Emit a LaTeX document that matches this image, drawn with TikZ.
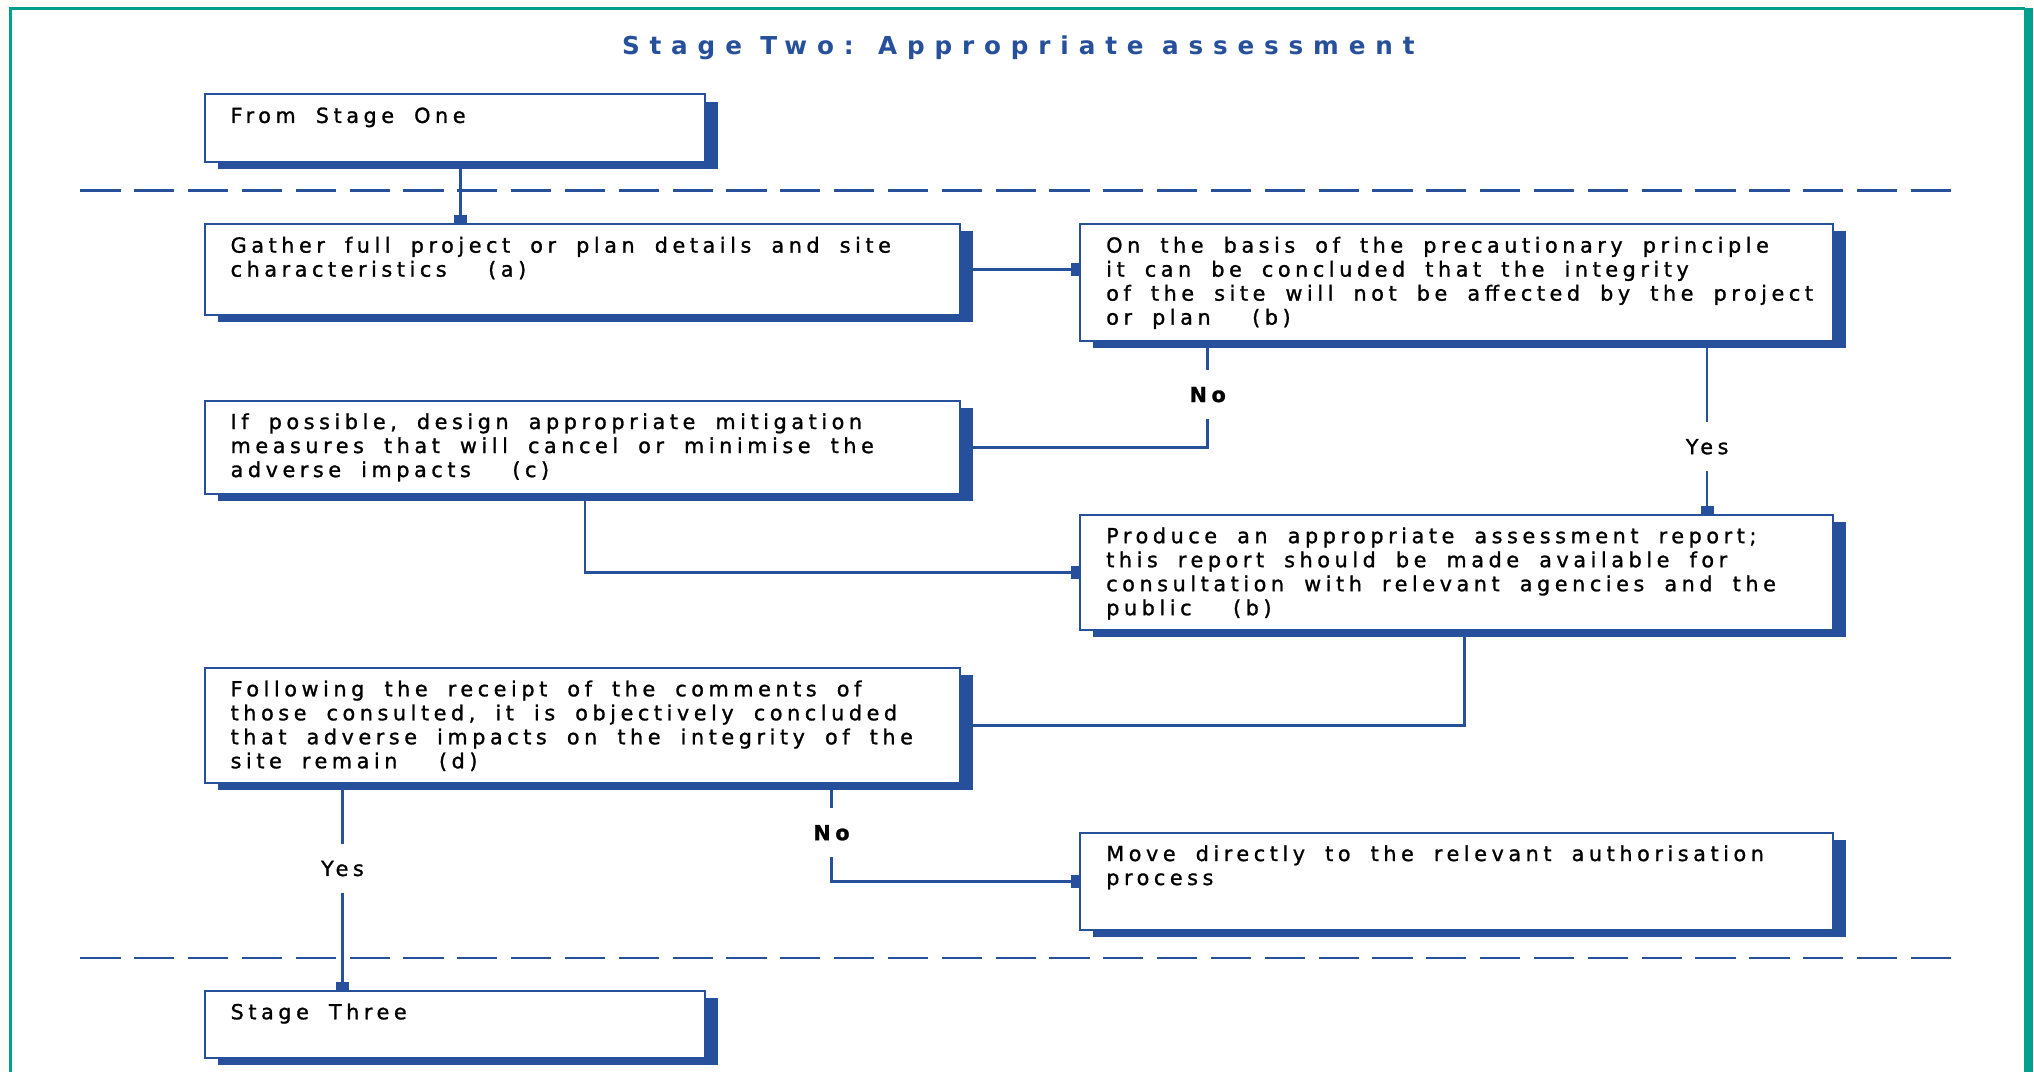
\documentclass[tikz,border=0pt]{standalone}
\usepackage{fontspec}
\usepackage{tikz}
\usetikzlibrary{arrows.meta,shadows}
\setmainfont{DejaVu Sans}
\newfontfamily\boxfont[LetterSpace=22,WordSpace=1.8,FakeBold=1.2]{DejaVu Sans}
\newfontfamily\headfont[LetterSpace=40]{DejaVu Sans}
\definecolor{bblue}{RGB}{38,80,155}
\definecolor{frameteal}{RGB}{0,160,140}
\definecolor{cream}{RGB}{255,253,248}
\newcommand{\boxtxt}[3]{\parbox[t][\dimexpr#2-9pt\relax][t]{\dimexpr#1-20pt\relax}{%
  \begin{tabular}[t]{@{}l@{}}#3\end{tabular}}}

\begin{document}
\begin{tikzpicture}[x=0.5pt,y=-0.5pt,>={Rectangle[length=3pt,width=5pt]},
  semithick]
  \tikzstyle{stagebox}=[draw=bblue,line width=0.8pt,fill=white,anchor=north west,
    inner xsep=10pt,inner ysep=4.5pt,font={\boxfont\fontsize{8}{9.25}\selectfont},
    drop shadow={shadow xshift=5pt,shadow yshift=-2.75pt,fill=bblue,opacity=1}]
  \tikzstyle{link}=[->,draw=bblue,line width=1pt]
  \tikzstyle{answer}=[fill=white,inner xsep=2pt,inner ysep=6.5pt,
    font={\boxfont\fontsize{8}{9.25}\selectfont}]
  \tikzstyle{divider}=[draw=bblue,line width=1pt,dash pattern=on 15.5pt off 5.25pt]

  \useasboundingbox (0,0) rectangle (1568,826);
  \fill[cream] (0,0) rectangle (1568,826);
  \fill[white] (8,6) rectangle (1563,826);
  \draw[frameteal,line width=1.2pt] (8,826) -- (8,6.5) -- (1561,6.5);
  \fill[frameteal] (1560,5.8) rectangle (1567,826);

  \node[font={\headfont\bfseries\fontsize{9.5}{11}\selectfont},text=bblue] (title)
    at (785,37) {Stage Two: Appropriate assessment};

  \draw[divider] (62,147) -- (1512,147);
  \draw[divider] (62,738.5) -- (1512,738.5);

  \node[stagebox] (from)   at (157,72)  {\boxtxt{193pt}{26pt}{From Stage One}};
  \node[stagebox] (gather) at (157,172) {\boxtxt{291pt}{35pt}{Gather full project or plan details and site\\
    characteristics\hspace{16pt}(a)}};
  \node[stagebox] (basis)  at (832,172) {\boxtxt{290pt}{45pt}{On the basis of the precautionary principle\\
    it can be concluded that the integrity\\
    of the site will not be affected by the project\\
    or plan\hspace{16pt}(b)}};
  \node[stagebox] (poss)   at (157,308) {\boxtxt{291pt}{36pt}{If possible, design appropriate mitigation\\
    measures that will cancel or minimise the\\
    adverse impacts\hspace{16pt}(c)}};
  \node[stagebox] (report) at (832,396) {\boxtxt{290pt}{44.5pt}{Produce an appropriate assessment report;\\
    this report should be made available for\\
    consultation with relevant agencies and the\\
    public\hspace{16pt}(b)}};
  \node[stagebox] (follow) at (157,514) {\boxtxt{291pt}{44.5pt}{Following the receipt of the comments of\\
    those consulted, it is objectively concluded\\
    that adverse impacts on the integrity of the\\
    site remain\hspace{16pt}(d)}};
  \node[stagebox] (move)   at (832,641) {\boxtxt{290pt}{37.5pt}{Move directly to the relevant authorisation\\
    process}};
  \node[stagebox] (three)  at (157,763) {\boxtxt{193pt}{26pt}{Stage Three}};

  \draw[link] ([xshift=99pt]from.south west) -- ([xshift=99pt]from.south west |- gather.north);
  \draw[link] (gather.east) -- (gather.east -| basis.west);
  \draw[link] ([xshift=49.5pt]basis.south west) |- node[answer,pos=0.25] {\bfseries No} (poss.east);
  \draw[link] ([xshift=242pt]basis.south west) -- node[answer,pos=0.61] {Yes}
    ([xshift=242pt]basis.south west |- report.north);
  \draw[link] ([xshift=147pt]poss.south west) |- (report.west);
  \draw[link] ([xshift=148.5pt]report.south west) |- (follow.east);
  \draw[link] ([xshift=53.5pt]follow.south west) -- node[answer,pos=0.41] {Yes}
    ([xshift=53.5pt]follow.south west |- three.north);
  \draw[link] ([xshift=242pt]follow.south west) |- node[answer,pos=0.25] {\bfseries No} (move.west);
\end{tikzpicture}
\end{document}
